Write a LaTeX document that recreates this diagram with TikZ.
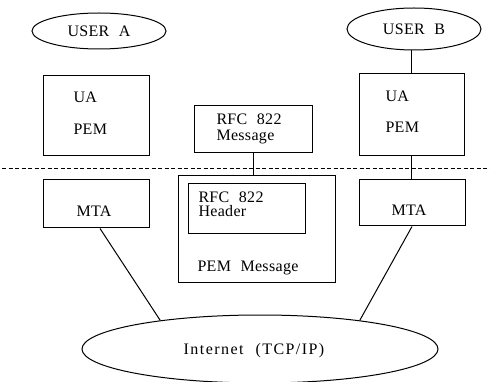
\documentclass[tikz,border=0pt]{standalone}
\usepackage{fontspec}
\setmainfont{Liberation Serif}[WordSpace=2.2, LetterSpace=2]
\usetikzlibrary{shapes.geometric}
\begin{document}
\begin{tikzpicture}[x=1pt,y=-1pt, line width=1pt,
  box/.style={draw, rectangle, inner sep=0pt},
  oval/.style={draw, ellipse, inner sep=0pt, font=\fontsize{16}{13}\selectfont},
  txt/.style={anchor=base west, inner sep=0pt, font=\fontsize{16}{13}\selectfont},
  ctxt/.style={anchor=base, inner sep=0pt, font=\fontsize{16}{13}\selectfont},
  sep/.style={line width=0.8pt, dash pattern=on 4pt off 2.5pt}]
\useasboundingbox (0,0) rectangle (490,382);

% users
\node[oval, minimum width=134, minimum height=36] (userA) at (99,31) {USER A};
\node[oval, minimum width=134, minimum height=42] (userB) at (414,29) {USER B};

% UA/PEM boxes
\node[box, minimum width=106, minimum height=80] (uaA) at (96,116) {};
\node[txt] (uaAt1) at (73,103) {UA};
\node[txt] (uaAt2) at (73,135) {PEM};
\node[box, minimum width=105, minimum height=82] (uaB) at (411.5,115) {};
\node[txt] (uaBt1) at (385,102) {UA};
\node[txt] (uaBt2) at (385,133) {PEM};

% RFC 822 message
\node[box, minimum width=118, minimum height=47] (rfcMsg) at (253,129.5) {};
\node[txt] (rfcMsgt1) at (216,124.5) {RFC 822};
\node[txt] (rfcMsgt2) at (216,140.5) {Message};

% separator
\coordinate (dl) at (2,168);
\coordinate (dr) at (490,168);
\draw[sep] (dl) -- (dr);

% PEM message
\node[box, minimum width=157, minimum height=106] (pemMsg) at (256.5,229) {};
\node[box, minimum width=117, minimum height=50] (rfcHdr) at (246.5,208.5) {};
\node[txt] (rfcHdrt1) at (198,202.5) {RFC 822};
\node[txt] (rfcHdrt2) at (198,217) {Header};
\node[txt] (pemMsgt) at (197,272) {PEM Message};

% MTAs
\node[box, minimum width=106, minimum height=48] (mtaA) at (96,204) {};
\node[ctxt] (mtaAt) at (94,217) {MTA};
\node[box, minimum width=106, minimum height=46] (mtaB) at (412,203) {};
\node[ctxt] (mtaBt) at (409,216) {MTA};

% Internet
\node[draw, ellipse, inner sep=0pt, minimum width=356, minimum height=68] (inet) at (260,349) {};
\node[ctxt] (inett) at (254,354) {\addfontfeatures{LetterSpace=9}Internet (TCP/IP)};

% connectors
\draw (uaB.north |- userB.south) -- (uaB.north);
\draw (uaB.south) -- (uaB.south |- mtaB.north);
\draw (rfcMsg.south) -- (rfcMsg.south |- pemMsg.north);
\draw ([xshift=4pt]mtaA.south) -- (inet.164);
\draw (mtaB.south) -- (inet.16);
\end{tikzpicture}
\end{document}
